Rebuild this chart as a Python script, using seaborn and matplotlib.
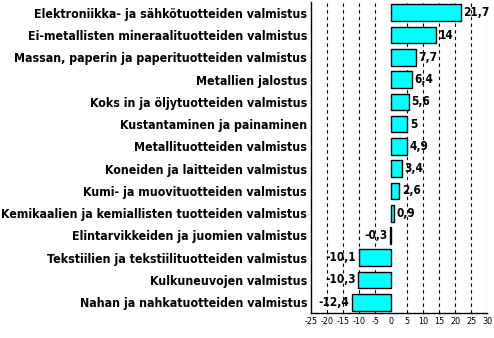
import matplotlib
matplotlib.use("Agg")
import matplotlib.pyplot as plt
import seaborn as sns
import pandas as pd

categories = [
    "Elektroniikka- ja sähkötuotteiden valmistus",
    "Ei-metallisten mineraalituotteiden valmistus",
    "Massan, paperin ja paperituotteiden valmistus",
    "Metallien jalostus",
    "Koks in ja öljytuotteiden valmistus",
    "Kustantaminen ja painaminen",
    "Metallituotteiden valmistus",
    "Koneiden ja laitteiden valmistus",
    "Kumi- ja muovituotteiden valmistus",
    "Kemikaalien ja kemiallisten tuotteiden valmistus",
    "Elintarvikkeiden ja juomien valmistus",
    "Tekstiilien ja tekstiilituotteiden valmistus",
    "Kulkuneuvojen valmistus",
    "Nahan ja nahkatuotteiden valmistus",
]
values = [21.7, 14, 7.7, 6.4, 5.6, 5, 4.9, 3.4, 2.6, 0.9, -0.3, -10.1, -10.3, -12.4]
xticks = [-25, -20, -15, -10, -5, 0, 5, 10, 15, 20, 25, 30]

sns.set_theme(style="white")
plt.rcParams["font.family"] = ["DejaVu Sans"]
plt.rcParams["font.stretch"] = "condensed"
plt.rcParams["text.color"] = "black"
plt.rcParams["xtick.color"] = "black"
plt.rcParams["ytick.color"] = "black"

df = pd.DataFrame({"cat": categories, "val": values})

fig = plt.figure(figsize=(4.94, 3.38), dpi=100)
ax = fig.add_axes([0.630, 0.073, 0.356, 0.922])

sns.barplot(data=df, x="val", y="cat", orient="h", color="#00FFFF",
            saturation=1, edgecolor="black", linewidth=1.0, width=0.75, ax=ax)

ax.set_xlim(-25, 30)
ax.set_xticks(xticks)
ax.set_xticklabels([str(t) for t in xticks], fontsize=6.5, stretch="condensed")
for t in xticks:
    if t not in (-25, 0):
        ax.axvline(t, color="black", linestyle=(0, (3, 3)), linewidth=0.8, zorder=0)

for i, v in enumerate(values):
    s = f"{v:g}".replace(".", ",")
    if v >= 0:
        ax.text(v + 0.8, i, s, va="center", ha="left", fontsize=8.5,
                fontweight="bold", stretch="condensed")
    else:
        ax.text(v - 0.8, i, s, va="center", ha="right", fontsize=8.5,
                fontweight="bold", stretch="condensed")

ax.set_xlabel("")
ax.set_ylabel("")
ax.tick_params(axis="y", length=0, pad=3)
ax.tick_params(axis="x", length=0, pad=3)
for lbl in ax.get_yticklabels():
    lbl.set_fontsize(8.9)
    lbl.set_fontweight("bold")
    lbl.set_fontstretch("condensed")

for side in ["top", "right"]:
    ax.spines[side].set_visible(False)
for side in ["left", "bottom"]:
    ax.spines[side].set_color("black")
    ax.spines[side].set_linewidth(1.0)

fig.savefig("out.png", dpi=100)
